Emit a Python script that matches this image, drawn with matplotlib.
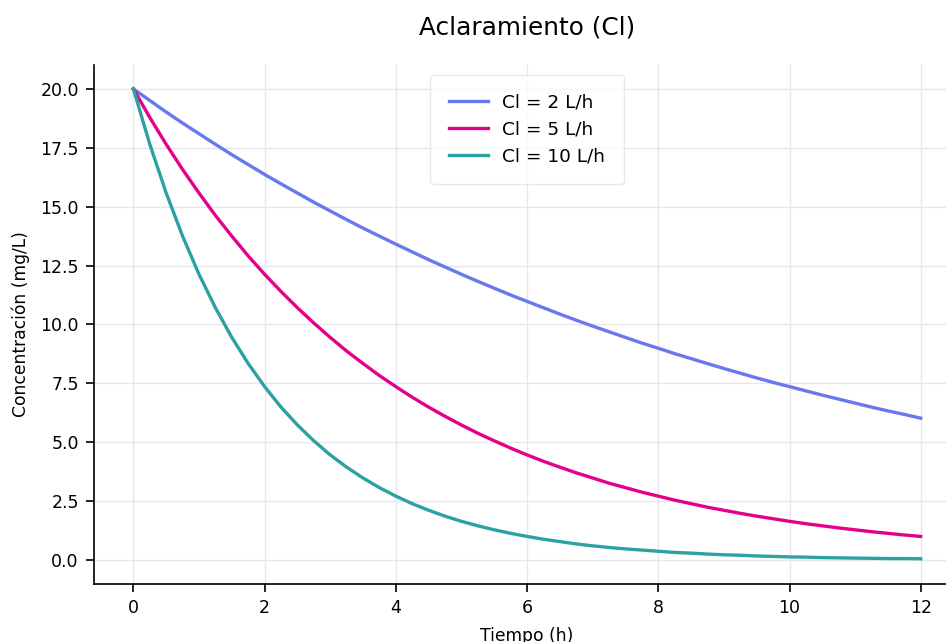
import matplotlib
matplotlib.use("Agg")
import matplotlib.pyplot as plt

# Sampling times (h)
tiempo = [0, 0.25, 0.5, 0.75, 1, 1.25, 1.5, 1.75, 2, 2.25, 2.5, 2.75, 3, 3.25, 3.5, 3.75,
          4, 4.25, 4.5, 4.75, 5, 5.25, 5.5, 5.75, 6, 6.25, 6.5, 6.75, 7, 7.25, 7.5, 7.75,
          8, 8.25, 8.5, 8.75, 9, 9.25, 9.5, 9.75, 10, 10.25, 10.5, 10.75, 11, 11.25, 11.5, 11.75, 12]

# Plasma concentration (mg/L) for each clearance
conc_cl2 = [20.00, 19.51, 19.02, 18.55, 18.10, 17.65, 17.21, 16.79, 16.37, 15.97, 15.58, 15.19,
            14.82, 14.45, 14.09, 13.75, 13.41, 13.08, 12.75, 12.44, 12.13, 11.83, 11.54, 11.25,
            10.98, 10.71, 10.44, 10.18, 9.93, 9.69, 9.45, 9.21, 8.99, 8.76, 8.55, 8.34,
            8.13, 7.93, 7.73, 7.54, 7.36, 7.18, 7.00, 6.83, 6.66, 6.49, 6.33, 6.18, 6.02]
conc_cl5 = [20.00, 18.79, 17.65, 16.58, 15.58, 14.63, 13.75, 12.91, 12.13, 11.40, 10.71, 10.06,
            9.45, 8.87, 8.34, 7.83, 7.36, 6.91, 6.49, 6.10, 5.73, 5.38, 5.06, 4.75,
            4.46, 4.19, 3.94, 3.70, 3.48, 3.26, 3.07, 2.88, 2.71, 2.54, 2.39, 2.24,
            2.11, 1.98, 1.86, 1.75, 1.64, 1.54, 1.45, 1.36, 1.28, 1.20, 1.13, 1.06, 1.00]
conc_cl10 = [20.00, 17.65, 15.58, 13.75, 12.13, 10.71, 9.45, 8.34, 7.36, 6.49, 5.73, 5.06,
             4.46, 3.94, 3.48, 3.07, 2.71, 2.39, 2.11, 1.86, 1.64, 1.45, 1.28, 1.13,
             1.00, 0.88, 0.78, 0.68, 0.60, 0.53, 0.47, 0.42, 0.37, 0.32, 0.29, 0.25,
             0.22, 0.20, 0.17, 0.15, 0.13, 0.12, 0.10, 0.09, 0.08, 0.07, 0.06, 0.06, 0.05]

etiquetas = ["Cl = 2 L/h", "Cl = 5 L/h", "Cl = 10 L/h"]
colores = ["#6878EE", "#E5008C", "#2CA1A3"]
x_ticks = [0, 2, 4, 6, 8, 10, 12]
y_ticks = [0.0, 2.5, 5.0, 7.5, 10.0, 12.5, 15.0, 17.5, 20.0]

plt.rcParams["font.family"] = ["DejaVu Sans"]

fig = plt.figure(figsize=(9.46, 6.42), dpi=100)
ax = fig.add_axes([0.0994, 0.0911, 0.9155, 0.807])

for serie, etiqueta, color in zip([conc_cl2, conc_cl5, conc_cl10], etiquetas, colores):
    ax.plot(tiempo, serie, color=color, linewidth=2.4, label=etiqueta)

ax.set_xlim(-0.6, 12.6)
ax.set_ylim(-1.0, 21.0)
ax.set_xticks(x_ticks)
ax.set_yticks(y_ticks)
ax.set_yticklabels([f"{v:.1f}" for v in y_ticks])
ax.tick_params(axis="both", labelsize=12.5, length=6, width=1.2, colors="black", pad=5)

ax.grid(True, color="#e6e6ec", linewidth=1.0)
ax.set_axisbelow(True)
for s in ["top", "right"]:
    ax.spines[s].set_visible(False)
for s in ["left", "bottom"]:
    ax.spines[s].set_linewidth(1.2)
    ax.spines[s].set_color("black")

ax.set_xlabel("Tiempo (h)", fontsize=12.3, labelpad=7.5)
ax.set_ylabel("Concentración (mg/L)", fontsize=12.3, labelpad=7.5)
ax.set_title("Aclaramiento (Cl)", fontsize=17.8, pad=22)

leg = ax.legend(loc="upper center", fontsize=13.3, frameon=True, borderpad=1.0,
                handlelength=2.1, labelspacing=0.5, bbox_to_anchor=(0.5, 1.0))
leg.get_frame().set_edgecolor("#e3e3e8")
leg.get_frame().set_linewidth(1.0)

fig.savefig("out.png", dpi=100)
